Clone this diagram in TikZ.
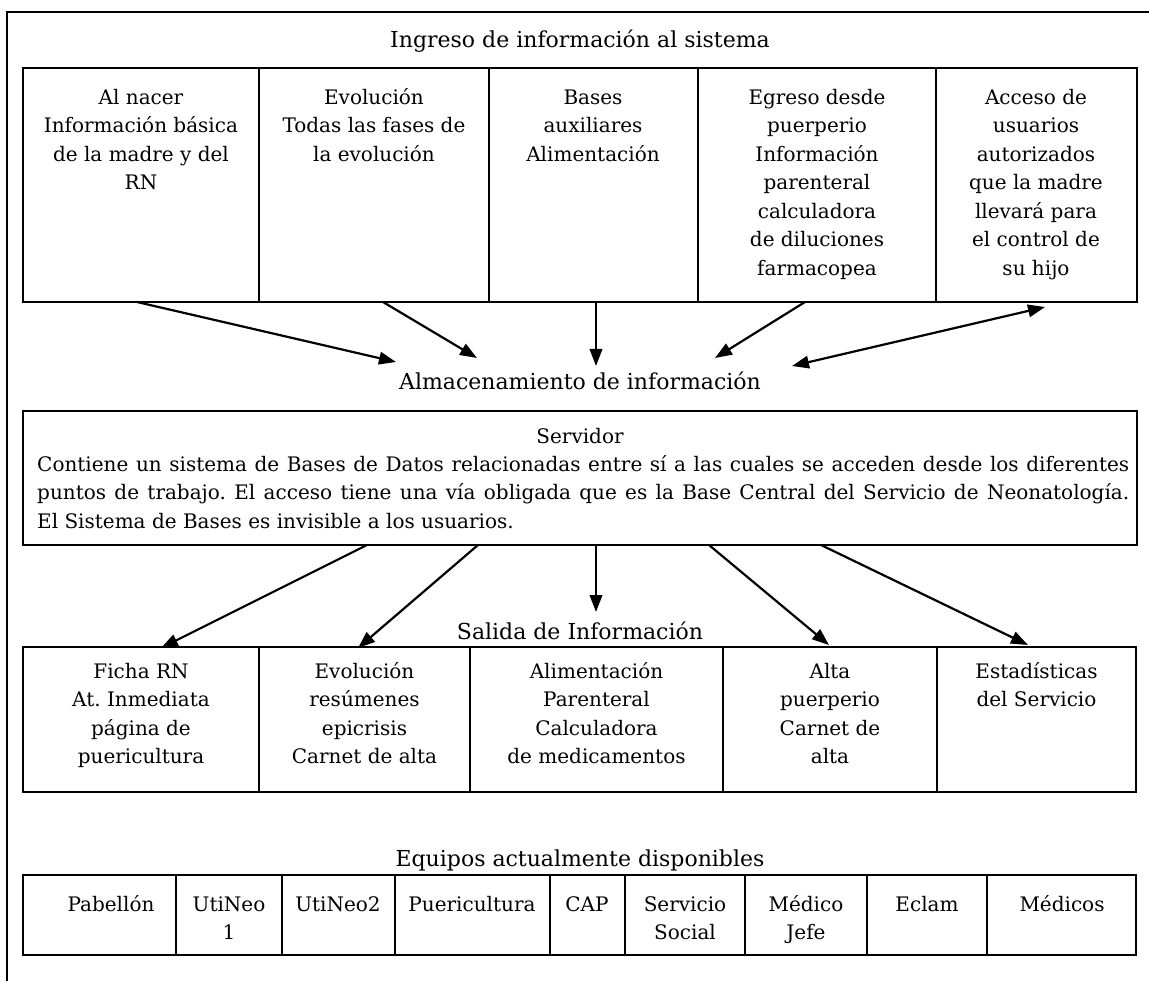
\documentclass[tikz,border=0pt]{standalone}
\usepackage{fontspec}
\setmainfont{DejaVu Serif}
\usetikzlibrary{arrows.meta}
\frenchspacing
\newcommand\celltxt{\fontsize{20}{28.5}\selectfont}
\newcommand\lbltxt{\fontsize{22}{26}\selectfont}
\newcommand\fl{\rule{0pt}{20pt}}
\begin{document}
\begin{tikzpicture}[x=1pt,y=-1pt,
  frameline/.style={line width=2.8pt},
  boxline/.style={draw, line width=2.8pt},
  divline/.style={line width=2.5pt},
  txt/.style={anchor=north, inner sep=0pt, align=center, font=\celltxt},
  lbl/.style={anchor=base, inner sep=0pt, font=\lbltxt},
  arr/.style={line width=2.2pt, -{Triangle[length=17pt,width=12.5pt]}},
  darr/.style={line width=2.2pt, {Triangle[length=17pt,width=12.5pt]}-{Triangle[length=17pt,width=12.5pt]}}
]
\useasboundingbox (0,0) rectangle (1149,981);
% outer frame (top and left)
\draw[frameline] (1149,12) -- (7,12) -- (7,981);

% ---- Ingreso
\node[lbl] (title) at (580,48) {Ingreso de información al sistema};
\draw[boxline] (23,68) rectangle (1137,302);
\foreach \x in {259,489,698,936} \draw[divline] (\x,68) -- (\x,302);
\node[txt] (i1) at (141,84) {\fl Al nacer\\Información básica\\de la madre y del\\RN};
\node[txt] (i2) at (374,84) {\fl Evolución\\Todas las fases de\\la evolución};
\node[txt] (i3) at (593,84) {\fl Bases\\auxiliares\\Alimentación};
\node[txt] (i4) at (817,84) {\fl Egreso desde\\puerperio\\Información\\parenteral\\calculadora\\de diluciones\\farmacopea};
\node[txt] (i5) at (1036,84) {\fl Acceso de\\usuarios\\autorizados\\que la madre\\llevará para\\el control de\\su hijo};

% ---- Almacenamiento
\node[lbl] (alm) at (580,390) {Almacenamiento de información};
\coordinate (a1s) at (137,302);  \coordinate (a1e) at (396,362);
\coordinate (a2s) at (383,302);  \coordinate (a2e) at (477,358);
\coordinate (a3s) at (596,302);  \coordinate (a3e) at (596,366);
\coordinate (a4s) at (805,302);  \coordinate (a4e) at (715,358);
\coordinate (a5s) at (792,366);  \coordinate (a5e) at (1045,307);
\draw[arr] (a1s) -- (a1e);
\draw[arr] (a2s) -- (a2e);
\draw[arr] (a3s) -- (a3e);
\draw[arr] (a4s) -- (a4e);
\draw[darr] (a5s) -- (a5e);

% ---- Servidor
\draw[boxline] (23,411) rectangle (1137,545);
\node[lbl,font=\celltxt] (serv) at (580,444) {Servidor};
\node[anchor=north west, inner sep=0pt, text width=1092pt, align=justify, font=\celltxt] (servtxt) at (37,451)
 {\fl Contiene un sistema de Bases de Datos relacionadas entre sí a las cuales se acceden desde los diferentes\linebreak
 puntos de trabajo. El acceso tiene una vía obligada que es la Base Central del Servicio de Neonatología.\linebreak
 El Sistema de Bases es invisible a los usuarios.\hfill\null};

% ---- Salida
\coordinate (b1s) at (367,545);  \coordinate (b1e) at (161,648);
\coordinate (b2s) at (478,545);  \coordinate (b2e) at (358,648);
\coordinate (b3s) at (596,545);  \coordinate (b3e) at (596,612);
\coordinate (b4s) at (709,545);  \coordinate (b4e) at (829,645);
\coordinate (b5s) at (821,545);  \coordinate (b5e) at (1028,645);
\draw[arr] (b1s) -- (b1e);
\draw[arr] (b2s) -- (b2e);
\draw[arr] (b3s) -- (b3e);
\draw[arr] (b4s) -- (b4e);
\draw[arr] (b5s) -- (b5e);
\node[lbl] (sal) at (580,639) {Salida de Información};
\draw[boxline] (23,647) rectangle (1136,792);
\foreach \x in {259,470,723,937} \draw[divline] (\x,647) -- (\x,792);
\node[txt] (o1) at (141,658) {\fl Ficha RN\\At. Inmediata\\página de\\puericultura};
\node[txt] (o2) at (364.5,658) {\fl Evolución\\resúmenes\\epicrisis\\Carnet de alta};
\node[txt] (o3) at (596.5,658) {\fl Alimentación\\Parenteral\\Calculadora\\de medicamentos};
\node[txt] (o4) at (830,658) {\fl Alta\\puerperio\\Carnet de\\alta};
\node[txt] (o5) at (1036.5,658) {\fl Estadísticas\\del Servicio};

% ---- Equipos
\node[lbl] (equ) at (580,866) {Equipos actualmente disponibles};
\draw[boxline] (23,875) rectangle (1136,955);
\foreach \x in {176,282,395,550,625,745,867,987} \draw[divline] (\x,875) -- (\x,955);
\node[txt] (e1) at (111,891) {\fl Pabellón};
\node[txt] (e2) at (229,891) {\fl UtiNeo\\1};
\node[txt] (e3) at (338,891) {\fl UtiNeo2};
\node[txt] (e4) at (472,891) {\fl Puericultura};
\node[txt] (e5) at (587,891) {\fl CAP};
\node[txt] (e6) at (685,891) {\fl Servicio\\Social};
\node[txt] (e7) at (806,891) {\fl Médico\\Jefe};
\node[txt] (e8) at (927,891) {\fl Eclam};
\node[txt] (e9) at (1062,891) {\fl Médicos};
\end{tikzpicture}
\end{document}
